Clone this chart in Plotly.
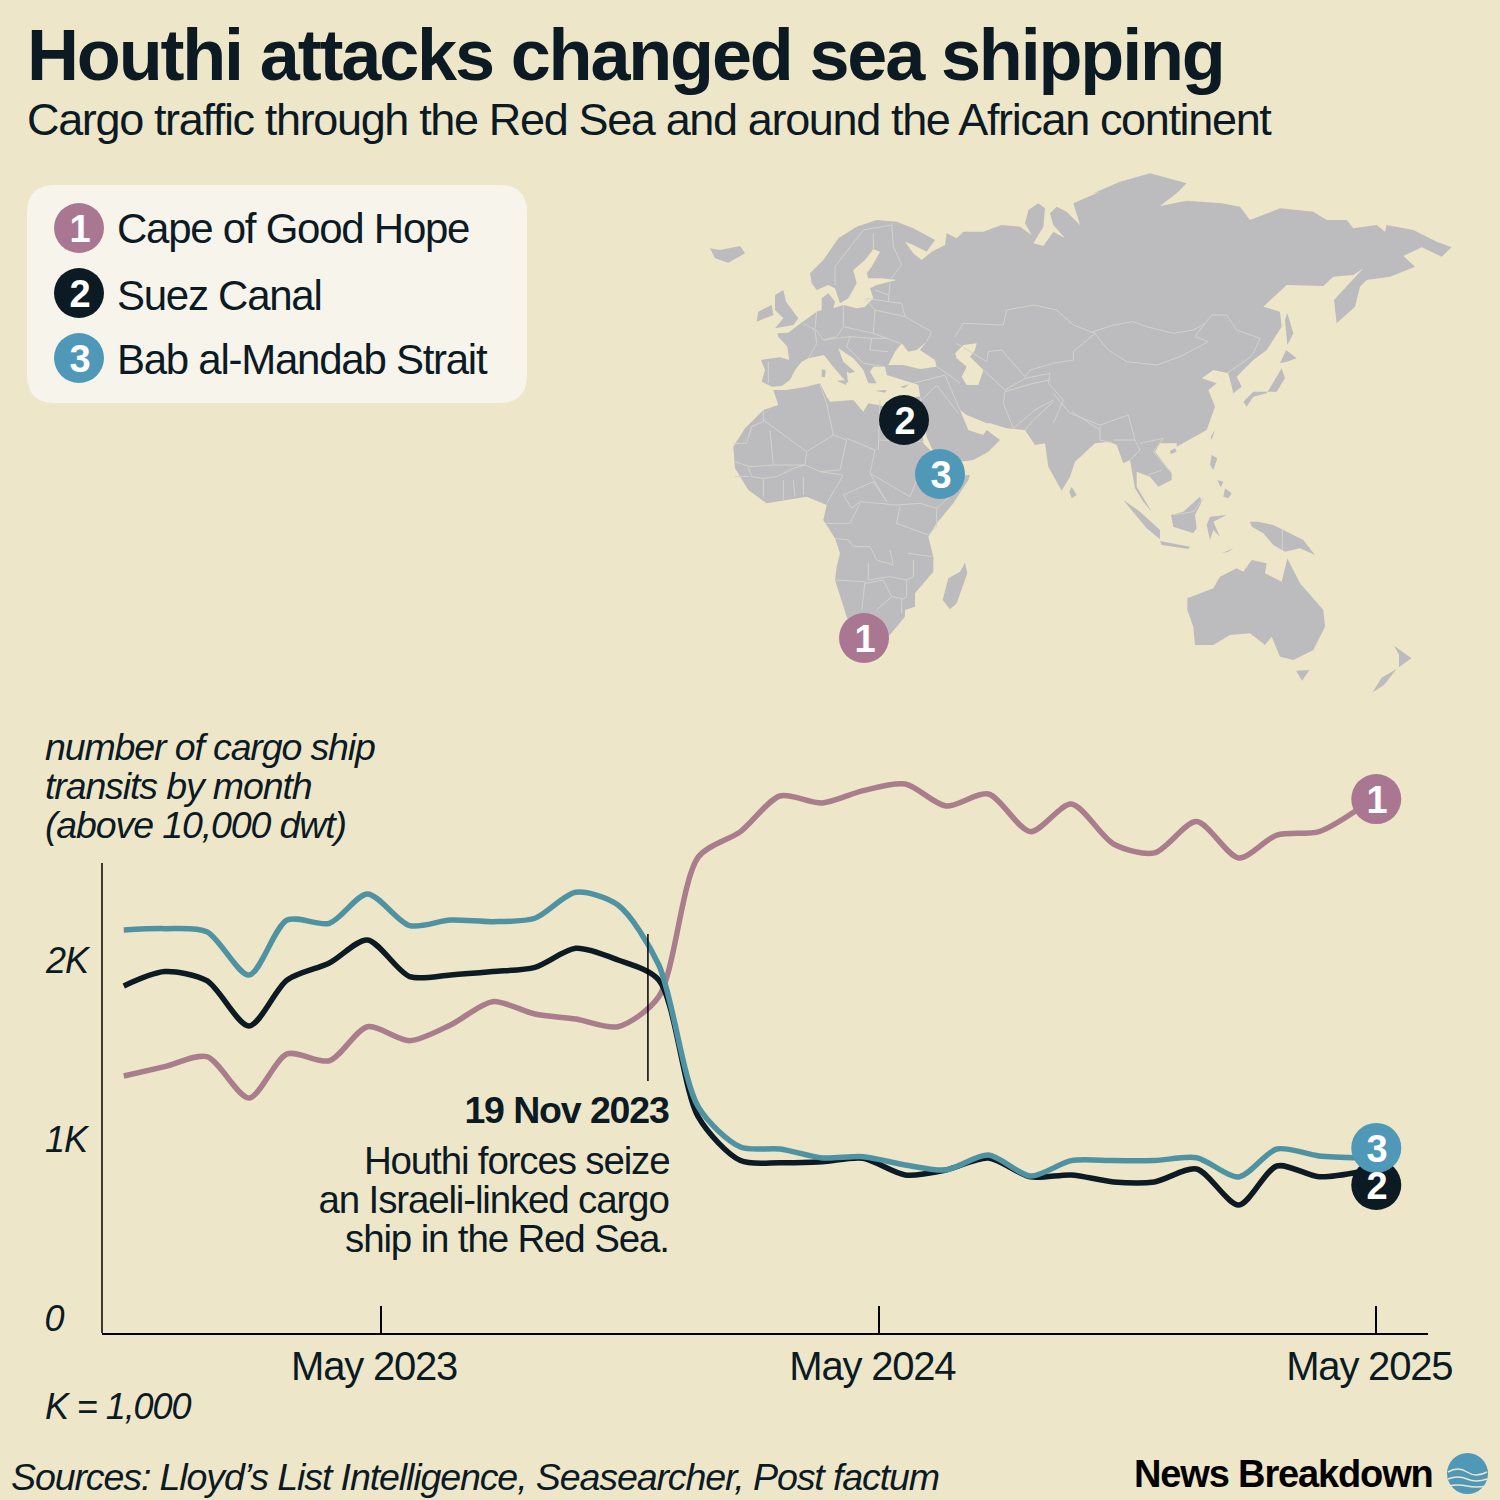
import plotly.graph_objects as go

# chart data (points sit a few days before each month start)
months = [
    "2022-10-30", "2022-11-29", "2022-12-30", "2023-01-30", "2023-02-27", "2023-03-30",
    "2023-04-27", "2023-05-28", "2023-06-27", "2023-07-28", "2023-08-28", "2023-09-27",
    "2023-10-28", "2023-11-27", "2023-12-26", "2024-01-26", "2024-02-24", "2024-03-26",
    "2024-04-25", "2024-05-26", "2024-06-25", "2024-07-26", "2024-08-26", "2024-09-25",
    "2024-10-26", "2024-11-25", "2024-12-26", "2025-01-26", "2025-02-23", "2025-03-26",
    "2025-04-25",
]
cape = [1436, 1488, 1544, 1313, 1559, 1521, 1711, 1633, 1721, 1851, 1782, 1754, 1711, 1879, 2659, 2801,
        3000, 2961, 3030, 3067, 2944, 3011, 2801, 2955, 2732, 2682, 2857, 2654, 2782, 2801, 2933]
suez = [1939, 2019, 1968, 1715, 1972, 2067, 2196, 1991, 2000, 2019, 2043, 2149, 2084, 1972, 1207, 963,
        951, 957, 976, 883, 911, 978, 872, 883, 844, 844, 916, 715, 933, 873, 901]
bab = [2252, 2259, 2242, 2000, 2307, 2289, 2453, 2276, 2307, 2298, 2317, 2462, 2391, 2056, 1263, 1039,
       1028, 978, 985, 939, 911, 994, 877, 963, 963, 963, 979, 872, 1028, 989, 979]

tick_dates = ["2023-05-07", "2024-05-07", "2025-05-07"]
tick_labels = ["May 2023", "May 2024", "May 2025"]
y_ticks = [0, 1000, 2000]
y_labels = ["0", "1K", "2K"]
y_line_top = 2626
event_date = "2023-11-19"
event_span = [1408, 2229]

end_date = "2025-05-07"
end_values = [827, 1034, 2983]
end_numbers = ["2", "3", "1"]

legend_names = ["Cape of Good Hope", "Suez Canal", "Bab al-Mandab Strait"]

BG = "#ede6c9"
INK = "#0c1a24"
PINK = "#aa7792"
TEAL = "#5098b8"
PINK_LINE = "#a97d8c"
TEAL_LINE = "#4f93a3"
LAND = "#bcbcbe"
BORDER = "#d3d2cc"
NUMBER_COLORS = {"1": PINK, "2": INK, "3": TEAL}

FONT = "Liberation Sans"


def crop(points, ox, oy, sx=3, sy=3):
    # the map was traced on enlarged crops of the picture
    return [(ox + x / sx, oy + y / sy) for x, y in points]


def a(points):
    return crop(points, 700, 170)


def b(points):
    return crop(points, 1080, 170)


def c(points):
    return crop(points, 980, 380)


def d(points):
    return crop(points, 720, 380)


def wide(points):
    return crop(points, 700, 160, 2.01, 2.8)


eurasia = (
    a([(215, 650), (185, 635), (195, 600), (183, 570), (240, 562), (268, 570), (262, 530), (235, 500), (232, 490),
       (265, 488), (295, 465), (330, 440), (350, 425), (365, 420), (365, 385), (385, 370), (405, 395), (400, 415),
       (430, 405), (470, 415), (495, 410), (520, 385), (510, 355), (530, 345), (590, 330), (545, 325), (505, 325),
       (500, 310), (515, 290), (540, 245), (520, 238), (495, 270), (460, 300), (470, 340), (445, 385), (420, 400),
       (405, 355), (385, 345), (350, 360), (335, 340), (330, 310), (370, 270), (415, 205), (470, 170), (530, 150),
       (590, 155), (640, 175), (705, 210), (680, 245), (640, 225), (615, 215), (640, 250), (665, 270), (695, 245),
       (735, 225), (740, 190), (770, 205), (790, 185), (850, 185), (905, 165), (960, 170), (995, 195), (975, 160),
       (985, 120), (1015, 100), (1035, 115), (1030, 170), (1000, 220), (1030, 228), (1060, 185), (1095, 205),
       (1060, 165), (1050, 130), (1070, 110), (1100, 125), (1140, 165), (1120, 100), (1200, 65)])
    + b([(40, 70), (120, 35), (210, 10), (320, 40), (290, 70), (240, 108), (320, 92), (425, 100), (480, 110),
         (510, 150), (600, 115), (700, 125), (740, 150), (800, 150), (820, 175), (890, 165), (915, 185), (920, 165),
         (1000, 180), (1070, 215), (1115, 232), (1085, 260), (1025, 232), (970, 258), (1005, 290), (930, 320),
         (860, 330), (840, 350), (825, 410), (770, 460), (762, 390), (850, 295), (820, 315), (760, 320), (730, 348),
         (620, 345), (550, 410), (600, 425), (605, 470), (560, 540), (520, 570), (490, 600), (470, 620), (485, 650),
         (460, 670), (445, 610), (400, 600), (365, 625), (410, 640), (385, 660), (405, 710), (380, 780), (290, 830)])
    + c([(590, 190), (540, 190), (525, 215), (575, 280), (575, 300), (535, 320), (510, 290), (470, 275), (470, 320),
         (515, 395), (490, 365), (465, 325), (450, 240), (430, 250), (410, 195), (390, 185), (345, 190), (285, 245),
         (270, 290), (245, 332), (205, 260), (195, 190), (165, 195), (135, 150), (80, 145), (30, 130), (0, 130)])
    + a([(860, 760), (800, 735), (780, 720)])
    + d([(745, 150), (790, 165), (800, 150), (840, 180), (805, 215), (760, 240), (720, 245), (640, 215), (620, 170),
         (600, 50)])
    + a([(655, 645), (640, 640), (560, 615), (555, 590), (520, 590), (510, 605), (530, 640), (505, 640), (490, 600),
         (460, 565), (415, 535), (430, 575), (465, 605), (450, 610), (440, 605), (445, 640), (425, 620), (395, 585),
         (372, 555), (325, 565), (305, 575), (285, 600), (270, 630), (245, 648)])
)
africa = d([(160, 30), (200, 30), (260, 20), (300, 10), (320, 50), (330, 65), (400, 60), (430, 95), (445, 70), (480, 75),
            (500, 80), (590, 50), (600, 50), (610, 190), (640, 220), (700, 270), (690, 290), (750, 285), (745, 300),
            (700, 370), (650, 430), (625, 470), (640, 530), (640, 575), (585, 640), (585, 680), (555, 690), (555, 710),
            (505, 770), (430, 830), (380, 710), (345, 600), (350, 560), (360, 520), (345, 475), (310, 420), (320, 375),
            (260, 350), (140, 370), (85, 330), (45, 265), (40, 200), (75, 145), (130, 90), (175, 75)])
islands = [
    a([(30, 235), (60, 240), (120, 228), (135, 250), (85, 278), (45, 265)]),
    a([(225, 375), (250, 360), (258, 395), (295, 445), (280, 465), (225, 475), (250, 445), (225, 420)]),
    a([(175, 425), (215, 405), (220, 435), (170, 455)]),
    a([(365, 598), (377, 600), (375, 622), (365, 620)]),
    a([(410, 632), (442, 630), (438, 645)]),
    a([(525, 662), (560, 660), (555, 668)]),
    a([(600, 650), (628, 643), (612, 655)]),
    b([(622, 430), (640, 490), (622, 525), (615, 450)]),
    b([(618, 540), (650, 565), (620, 575), (600, 580)]),
    b([(605, 595), (615, 625), (590, 665), (520, 665), (490, 695), (500, 710), (520, 680), (560, 670)]),
    d([(735, 548), (742, 580), (710, 670), (690, 688), (668, 660), (685, 595), (720, 575)]),
    c([(275, 320), (290, 345), (275, 355), (268, 335)]),
    c([(430, 360), (480, 395), (540, 450), (540, 478), (500, 445)]),
    c([(540, 483), (630, 500), (625, 507), (545, 495)]),
    c([(725, 520), (760, 505), (745, 515)]),
    c([(660, 350), (665, 365), (645, 405), (650, 445), (640, 460), (580, 440), (573, 405), (610, 395)]),
    c([(690, 410), (740, 405), (700, 425), (720, 470), (700, 450), (690, 480), (680, 435)]),
    c([(810, 425), (835, 425), (880, 435), (970, 480), (1005, 525), (960, 505), (915, 515), (880, 495), (850, 460),
       (815, 440)]),
    c([(695, 225), (712, 235), (700, 270), (690, 255)]),
    c([(735, 325), (755, 340), (745, 355), (730, 350)]),
    c([(712, 300), (730, 305), (722, 322)]),
    c([(705, 150), (695, 180), (692, 170)]),
    c([(585, 205), (590, 215), (572, 222), (570, 212)]),
    c([(622, 655), (700, 625), (720, 590), (770, 565), (790, 575), (815, 540), (860, 550), (855, 580), (905, 605),
       (922, 535), (960, 610), (1030, 690), (1035, 740), (1000, 810), (940, 840), (900, 830), (875, 770), (855, 795),
       (810, 760), (750, 765), (700, 795), (645, 795), (640, 740), (622, 690)]),
    wide([(1198, 1430), (1225, 1428), (1210, 1458)]),
    wide([(1395, 1360), (1430, 1395), (1405, 1420), (1405, 1385)]),
    wide([(1400, 1425), (1375, 1470), (1352, 1490), (1370, 1450)]),
]
seas = [
    a([(565, 585), (585, 545), (605, 520), (625, 545), (650, 540), (680, 515), (660, 540), (705, 570), (710, 590),
       (660, 597), (610, 585)]),
    a([(765, 550), (790, 525), (830, 520), (825, 540), (810, 560), (850, 600), (835, 645), (800, 645), (785, 620),
       (800, 590), (770, 565)]),
]
borders = [
    a([(575, 160), (580, 230), (605, 285), (570, 330)]),
    a([(490, 180), (405, 290), (405, 345)]),
    a([(520, 190), (520, 240)]),
    a([(490, 180), (575, 165)]),
    a([(570, 340), (565, 395), (605, 400), (615, 440), (695, 485), (680, 515)]),
    a([(525, 360), (565, 375)]),
    a([(500, 385), (565, 395)]),
    a([(525, 420), (615, 440)]),
    a([(430, 405), (430, 470), (520, 490), (525, 420), (495, 385)]),
    a([(520, 490), (570, 510), (600, 520)]),
    a([(350, 425), (345, 475), (370, 510), (410, 500), (430, 470)]),
    a([(310, 460), (345, 480), (350, 520), (345, 530), (325, 565)]),
    a([(205, 575), (205, 640)]),
    a([(370, 510), (450, 500), (515, 505), (565, 505)]),
    a([(450, 500), (440, 530), (490, 580), (555, 590)]),
    a([(515, 505), (510, 540), (565, 545)]),
    a([(710, 590), (740, 610), (780, 640)]),
    a([(640, 640), (735, 615), (780, 720)]),
    a([(660, 695), (710, 645), (775, 730)]),
    a([(915, 665), (910, 700), (940, 775)]),
    a([(765, 500), (790, 460), (910, 465), (920, 420), (1000, 405), (1070, 420), (1120, 465), (1185, 490)]),
    a([(770, 520), (860, 575), (865, 545), (905, 540), (975, 620), (990, 600), (1060, 580), (1120, 570), (1120, 545),
       (1185, 490)]),
    a([(850, 600), (915, 660), (975, 625), (1050, 610), (1045, 640), (1090, 690), (1060, 760)]),
    a([(915, 665), (1000, 640), (1050, 630)]),
    a([(940, 775), (1005, 720), (1060, 690)]),
    b([(40, 485), (100, 465), (160, 455), (200, 470), (280, 490), (340, 480), (375, 460), (395, 435), (440, 435),
       (470, 480), (540, 505), (520, 550), (500, 570), (440, 610)]),
    b([(40, 485), (85, 540), (140, 575), (230, 585), (300, 560), (385, 515), (345, 500), (375, 460)]),
    c([(220, 40), (270, 100), (360, 135), (445, 105), (465, 180)]),
    c([(275, 95), (360, 150)]),
    c([(400, 180), (465, 180), (480, 210), (450, 240)]),
    c([(480, 190), (550, 175), (520, 215), (565, 270)]),
    c([(505, 285), (545, 270)]),
    c([(360, 140), (360, 180), (400, 190)]),
    c([(135, 150), (160, 120), (220, 65)]),
    c([(580, 405), (640, 395), (670, 355)]),
    c([(907, 445), (907, 510)]),
    d([(130, 90), (130, 125), (95, 140), (80, 190), (40, 190)]),
    d([(130, 120), (260, 215), (340, 165), (320, 70), (300, 15)]),
    d([(150, 150), (160, 255), (90, 260), (45, 245)]),
    d([(260, 215), (255, 255), (160, 255)]),
    d([(340, 165), (380, 180), (360, 270), (300, 275), (255, 255), (220, 265), (170, 290), (130, 295)]),
    d([(480, 60), (475, 210)]),
    d([(380, 175), (465, 210)]),
    d([(475, 180), (610, 185)]),
    d([(465, 210), (450, 280), (500, 365)]),
    d([(250, 290), (250, 345)]),
    d([(300, 275), (370, 285), (320, 370)]),
    d([(370, 345), (460, 305), (500, 365)]),
    d([(370, 345), (395, 385), (420, 365), (530, 375)]),
    d([(450, 280), (570, 350), (590, 300)]),
    d([(530, 375), (600, 370), (650, 385), (700, 340)]),
    d([(650, 385), (650, 440), (625, 465)]),
    d([(540, 380), (530, 430), (625, 465)]),
    d([(320, 430), (390, 430), (420, 370)]),
    d([(345, 475), (385, 480), (400, 500), (450, 500), (470, 540), (520, 555), (510, 510)]),
    d([(565, 520), (635, 530)]),
    d([(445, 550), (445, 600), (510, 590), (560, 600), (580, 590), (580, 540)]),
    d([(345, 600), (435, 605), (430, 650), (425, 690)]),
    d([(435, 610), (490, 600), (515, 650), (470, 690)]),
    d([(515, 650), (545, 655), (545, 700)]),
    d([(560, 600), (560, 650), (545, 660)]),
    d([(190, 300), (190, 360)]),
    d([(220, 300), (225, 350)]),
    d([(85, 260), (95, 290), (130, 295), (130, 350)]),
    d([(45, 290), (85, 290)]),
]

map_dots = [(864, 638, "1"), (904, 420, "2"), (940, 474, "3")]
legend_dots = [(79, 228, "1"), (79, 293, "2"), (79, 358, "3")]


def px(x):
    return x / 1500


def py(y):
    return 1 - y / 1500


def label(text, x, y, size, anchor="left", bold=False, italic=False, color=INK):
    fig.add_annotation(
        text=text, x=px(x), y=py(y), xref="paper", yref="paper",
        xanchor=anchor, yanchor="middle", align=anchor, showarrow=False,
        font=dict(family=FONT, size=size, color=color,
                  weight=700 if bold else 400, style="italic" if italic else "normal"),
    )


def polygon(points, color):
    fig.add_trace(go.Scatter(
        x=[p[0] for p in points] + [points[0][0]], y=[p[1] for p in points] + [points[0][1]],
        mode="lines", fill="toself", fillcolor=color, line=dict(width=0),
        xaxis="x2", yaxis="y2", hoverinfo="skip", showlegend=False,
    ))


def dots(xs, ys, numbers, xaxis="x2", yaxis="y2"):
    fig.add_trace(go.Scatter(
        x=xs, y=ys, mode="markers", marker=dict(size=50, color=[NUMBER_COLORS[n] for n in numbers]),
        xaxis=xaxis, yaxis=yaxis, hoverinfo="skip", showlegend=False, cliponaxis=False,
    ))
    for x, y, n in zip(xs, ys, numbers):
        fig.add_annotation(text=n, x=x, y=y, xref=xaxis, yref=yaxis, yshift=-1, showarrow=False,
                           font=dict(family=FONT, size=38, color="white", weight=700))


fig = go.Figure()

# the map
for land in [eurasia, africa] + islands:
    polygon(land, LAND)
for sea in seas:
    polygon(sea, BG)
for line in borders:
    fig.add_trace(go.Scatter(
        x=[p[0] for p in line], y=[p[1] for p in line], mode="lines",
        line=dict(color=BORDER, width=1), xaxis="x2", yaxis="y2", hoverinfo="skip", showlegend=False,
    ))

# the lines
for values, color in [(cape, PINK_LINE), (suez, INK), (bab, TEAL_LINE)]:
    fig.add_trace(go.Scatter(
        x=months, y=values, mode="lines", line=dict(color=color, width=5.5, shape="spline", smoothing=0.8),
        hoverinfo="skip", showlegend=False,
    ))

dots([end_date] * 3, end_values, end_numbers, "x", "y")
dots([p[0] for p in map_dots], [p[1] for p in map_dots], [p[2] for p in map_dots])
dots([p[0] for p in legend_dots], [p[1] for p in legend_dots], [p[2] for p in legend_dots])

fig.update_layout(
    width=1500, height=1500, margin=dict(l=0, r=0, t=0, b=0, autoexpand=False),
    paper_bgcolor=BG, plot_bgcolor="rgba(0,0,0,0)",
    xaxis=dict(
        type="date", domain=[px(102), px(1428)], range=["2022-10-14", "2025-06-14"],
        tickvals=tick_dates, ticktext=tick_labels, ticks="inside", ticklen=27, tickwidth=1.5, tickcolor="black",
        ticklabelshift=-7, ticklabelstandoff=-3, tickfont=dict(family=FONT, size=40, color=INK),
        showline=True, linecolor="black", linewidth=1.5, showgrid=False, zeroline=False,
    ),
    yaxis=dict(
        domain=[py(1333), py(750)], range=[0, 3257], showticklabels=False,
        showline=False, showgrid=False, zeroline=False,
    ),
    xaxis2=dict(domain=[0, 1], range=[0, 1500], anchor="y2", visible=False),
    yaxis2=dict(domain=[0, 1], range=[1500, 0], anchor="x2", visible=False),
)

# legend box
r = 28
x0, x1, y0, y1 = 27, 527, 185, 403
fig.add_shape(
    type="path", xref="paper", yref="paper", layer="below", fillcolor="#f7f4ec", line=dict(width=0),
    path=(f"M {px(x0 + r)} {py(y0)} L {px(x1 - r)} {py(y0)} Q {px(x1)} {py(y0)} {px(x1)} {py(y0 + r)} "
          f"L {px(x1)} {py(y1 - r)} Q {px(x1)} {py(y1)} {px(x1 - r)} {py(y1)} "
          f"L {px(x0 + r)} {py(y1)} Q {px(x0)} {py(y1)} {px(x0)} {py(y1 - r)} "
          f"L {px(x0)} {py(y0 + r)} Q {px(x0)} {py(y0)} {px(x0 + r)} {py(y0)} Z"),
)

# y axis line, stops short of the top of the plot
fig.add_shape(type="line", x0=px(102), x1=px(102), y0=0, y1=y_line_top, xref="paper", yref="y",
              line=dict(color="black", width=1.5))

# event line
fig.add_shape(type="line", x0=event_date, x1=event_date, y0=event_span[0], y1=event_span[1],
              xref="x", yref="y", line=dict(color="black", width=1.5))

# logo
fig.add_shape(type="circle", xref="paper", yref="paper", x0=px(1447), x1=px(1488), y0=py(1494), y1=py(1453),
              fillcolor=TEAL, line=dict(width=0))
for wave_y, bump in [(1472, 6), (1479, 4), (1486, 2)]:
    fig.add_shape(type="path", xref="paper", yref="paper", line=dict(color=BG, width=1.5),
                  path=(f"M {px(1448)} {py(wave_y)} Q {px(1458)} {py(wave_y - bump)} {px(1467)} {py(wave_y)} "
                        f"T {px(1487)} {py(wave_y)}"))

label("Houthi attacks changed sea shipping", 25, 55, 72, bold=True)
label("Cargo traffic through the Red Sea and around the African continent", 25, 119, 45)
for name, y in zip(legend_names, [228, 295, 359]):
    label(name, 115, y, 42)
for line, y in zip(["number of cargo ship", "transits by month", "(above 10,000 dwt)"], [747, 786, 825]):
    label(line, 43, y, 37.5, italic=True)
label("19 Nov 2023", 671, 1110, 37.5, anchor="right", bold=True)
for line, y in zip(["Houthi forces seize", "an Israeli-linked cargo", "ship in the Red Sea."], [1160, 1199, 1238]):
    label(line, 671, y, 38.5, anchor="right")
for value, text in zip(y_ticks, y_labels):
    fig.add_annotation(text=text, x=px(42), y=value, xref="paper", yref="y", yshift=15, xanchor="left",
                       yanchor="middle", showarrow=False,
                       font=dict(family=FONT, size=36, color=INK, style="italic"))
label("K = 1,000", 43, 1406, 36, italic=True)
label("Sources: Lloyd’s List Intelligence, Seasearcher, Post factum", 9, 1477, 37.6, italic=True)
label("News Breakdown", 1435, 1474, 38, anchor="right", bold=True, color="#000000")

# tight grotesque spacing, and no page margin round the figure
page_css = """
document.body.style.margin = '0';
var s = document.createElement('style');
s.textContent = 'svg text { letter-spacing: -0.03em; }';
document.head.appendChild(s);
"""
fig.write_html("out.html", post_script=page_css, config=dict(displayModeBar=False))
